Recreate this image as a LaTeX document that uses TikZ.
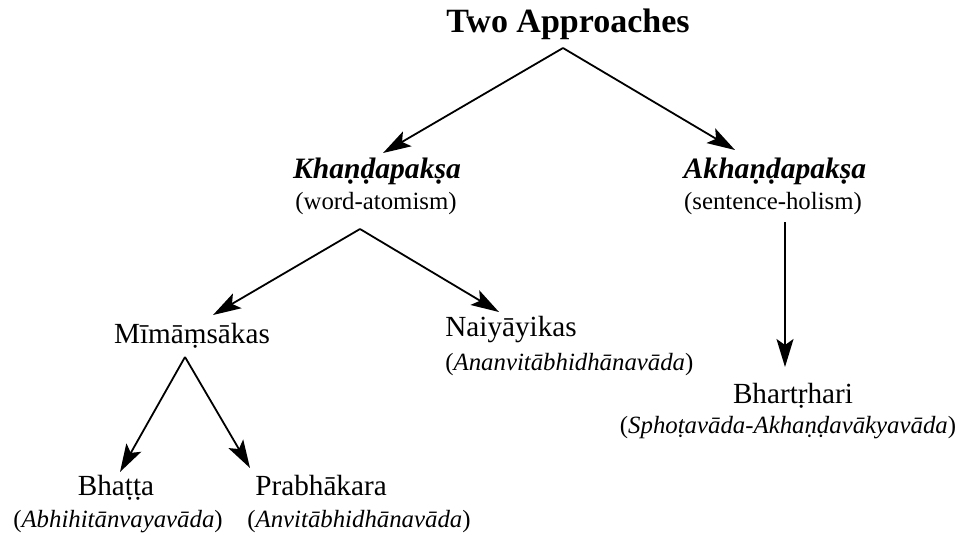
\documentclass[tikz,border=0pt]{standalone}
\usepackage{fontspec}
\setmainfont{Liberation Serif}
\usepackage{tikz}
\usetikzlibrary{arrows.meta}

\begin{document}
\begin{tikzpicture}[x=0.5pt,y=-0.5pt,
      title_node/.style={
         anchor=base,
         inner sep=0pt,
         font=\fontsize{17}{20}\selectfont\bfseries},
      head_node/.style={
         anchor=base,
         inner sep=0pt,
         font=\fontsize{14.8}{17}\selectfont\bfseries\itshape},
      name_node/.style={
         anchor=base,
         inner sep=0pt,
         font=\fontsize{14.6}{17}\selectfont},
      sub_node/.style={
         anchor=base,
         inner sep=0pt,
         font=\fontsize{12.4}{15}\selectfont},
      arrow_black/.style={
        -{Stealth[length=14pt,width=8.5pt,inset=3pt]},
        line width=0.9pt,
        }
]
      \useasboundingbox (0,0) rectangle (969,537);

      %root
      \node[title_node] (two) at (568,32) {Two Approaches};

      %the two approaches
      \node[head_node] (khan) at (377,178) {Khaṇḍapakṣa};
      \node[sub_node] (khansub) at ([shift={(-1,31)}]khan.base) {(word-atomism)};
      \node[head_node] (akhan) at (775,178) {Akhaṇḍapakṣa};
      \node[sub_node] (akhansub) at ([shift={(-2,31)}]akhan.base) {(sentence-holism)};

      %schools
      \node[name_node] (mim) at (192,343) {Mīmāṃsākas};
      \node[name_node,anchor=base west] (nai) at (445,336) {Naiyāyikas};
      \node[sub_node,anchor=base west] (naisub) at ([shift={(0,34)}]nai.base west) {(\textit{Ananvitābhidhānavāda})};
      \node[name_node] (bhar) at (793,403) {Bhartṛhari};
      \node[sub_node] (bharsub) at ([shift={(-5,30)}]bhar.base) {(\textit{Sphoṭavāda-Akhaṇḍavākyavāda})};

      %mimamsa branches
      \node[name_node] (bhat) at (116,495) {Bhaṭṭa};
      \node[sub_node] (bhatsub) at ([shift={(2,32)}]bhat.base) {(\textit{Abhihitānvayavāda})};
      \node[name_node,anchor=base west] (prab) at (255,495) {Prabhākara};
      \node[sub_node,anchor=base west] (prabsub) at ([shift={(-8,32)}]prab.base west) {(\textit{Anvitābhidhānavāda})};

    \foreach \i/\ix/\iy/\j/\jx/\jy in {% from node/shift/to node/shift
      two.base/-5/16/khan.base/6/-25,
      two.base/-5/16/akhan.base/-40/-28,
      khansub.base/-16/20/mim.base/21/-28,
      khansub.base/-16/20/nai.base west/54/-24,
      akhansub.base/12/13/bhar.base/-8/-36,
      mim.base/-7/14/bhat.base/4/-23,
      mim.base/-7/14/prab.base west/-5/-27}
      \draw [arrow_black] ([shift={(\ix,\iy)}]\i) -- ([shift={(\jx,\jy)}]\j);

\end{tikzpicture}
\end{document}
